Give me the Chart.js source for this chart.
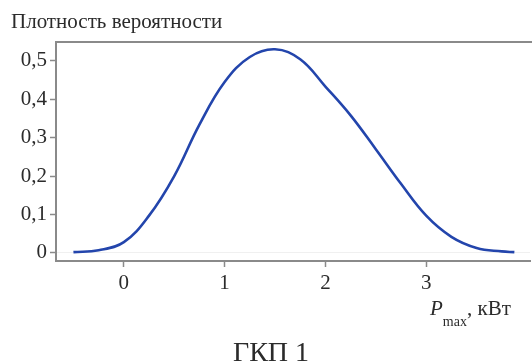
<!DOCTYPE html>
<html>
<head>
<meta charset="utf-8">
<script src="https://cdn.jsdelivr.net/npm/chart.js@4/dist/chart.umd.min.js"></script>
<style>
  html, body { margin: 0; padding: 0; background: #fff; }
  #wrap { width: 532px; height: 363px; }
</style>
</head>
<body>
<div id="wrap"><canvas id="myChart" width="532" height="363"></canvas></div>
<script>
// values
const pmax = [-0.5, -0.25, 0, 0.25, 0.5, 0.75, 1, 1.25, 1.5, 1.75, 2, 2.25, 2.5, 2.75, 3, 3.25, 3.5, 3.75, 3.875];
const density = [0.002, 0.007, 0.028, 0.097, 0.2, 0.334, 0.445, 0.51, 0.53, 0.504, 0.433, 0.358, 0.27, 0.18, 0.097, 0.042, 0.013, 0.004, 0.002];
const xTicks = [0, 1, 2, 3];
const yTicks = [0, 0.1, 0.2, 0.3, 0.4, 0.5];

const yTitle = 'Плотность вероятности';
const xTitleMain = 'P';
const xTitleSub = 'max';
const xTitleUnit = ', кВт';
const caption = 'ГКП 1';

const serif = '"Liberation Serif", "DejaVu Serif", serif';
const axisGray = '#8a8a8a';
const textColor = '#2b2b2b';

const textPlugin = {
    id: 'texts',
    afterDraw(chart) {
        const ctx = chart.ctx;
        const area = chart.chartArea;
        ctx.save();
        // top border of the plot box
        ctx.strokeStyle = axisGray;
        ctx.lineWidth = 2;
        ctx.beginPath();
        ctx.moveTo(area.left, area.top);
        ctx.lineTo(chart.width, area.top);
        ctx.stroke();

        ctx.fillStyle = textColor;
        ctx.textBaseline = 'alphabetic';
        ctx.textAlign = 'left';
        ctx.font = '21px ' + serif;
        ctx.fillText(yTitle, 11, 28);

        // x axis title with subscript
        let x = 430;
        ctx.font = 'italic 21px ' + serif;
        ctx.fillText(xTitleMain, x, 315);
        x += ctx.measureText(xTitleMain).width;
        ctx.font = '14px ' + serif;
        ctx.fillText(xTitleSub, x, 326);
        x += ctx.measureText(xTitleSub).width;
        ctx.font = '21px ' + serif;
        ctx.fillText(xTitleUnit, x, 315);

        ctx.textAlign = 'center';
        ctx.font = '28px ' + serif;
        ctx.fillText(caption, 271, 361);
        ctx.restore();
    }
};

const ctx = document.getElementById('myChart').getContext('2d');
const myChart = new Chart(ctx, {
    type: 'line',
    data: {
        datasets: [{
            data: pmax.map((p, i) => ({ x: p, y: density[i] })),
            borderColor: '#2345ac',
            borderWidth: 2.6,
            pointRadius: 0,
            fill: false,
            tension: 0.4
        }]
    },
    options: {
        responsive: false,
        animation: false,
        layout: {
            padding: { top: 42, left: 0, right: 2, bottom: 62 }
        },
        plugins: {
            legend: { display: false },
            tooltip: { enabled: false }
        },
        scales: {
            x: {
                type: 'linear',
                min: -0.673,
                max: 4.03,
                afterBuildTicks: (scale) => {
                    scale.ticks = xTicks.map(v => ({ value: v }));
                },
                afterFit: (scale) => { scale.height = 40; },
                border: { display: true, color: axisGray, width: 2 },
                grid: {
                    drawOnChartArea: false,
                    drawTicks: true,
                    tickLength: 6,
                    tickColor: axisGray,
                    tickWidth: 1.5
                },
                ticks: {
                    color: textColor,
                    font: { family: serif, size: 21 },
                    padding: 4,
                    maxRotation: 0,
                    callback: (v) => String(v)
                }
            },
            y: {
                min: -0.021,
                max: 0.549,
                afterBuildTicks: (scale) => {
                    scale.ticks = yTicks.map(v => ({ value: v }));
                },
                afterFit: (scale) => { scale.width = 56; },
                border: { display: true, color: axisGray, width: 2 },
                grid: {
                    drawOnChartArea: true,
                    drawTicks: true,
                    tickLength: 6,
                    tickColor: axisGray,
                    tickWidth: 1.5,
                    color: (c) => c.tick && c.tick.value === 0 ? 'rgba(0,0,0,0.06)' : 'rgba(0,0,0,0)'
                },
                ticks: {
                    color: textColor,
                    font: { family: serif, size: 21 },
                    padding: 3,
                    callback: (v) => v === 0 ? '0' : v.toFixed(1).replace('.', ',')
                }
            }
        }
    },
    plugins: [textPlugin]
});
</script>
</body>
</html>
